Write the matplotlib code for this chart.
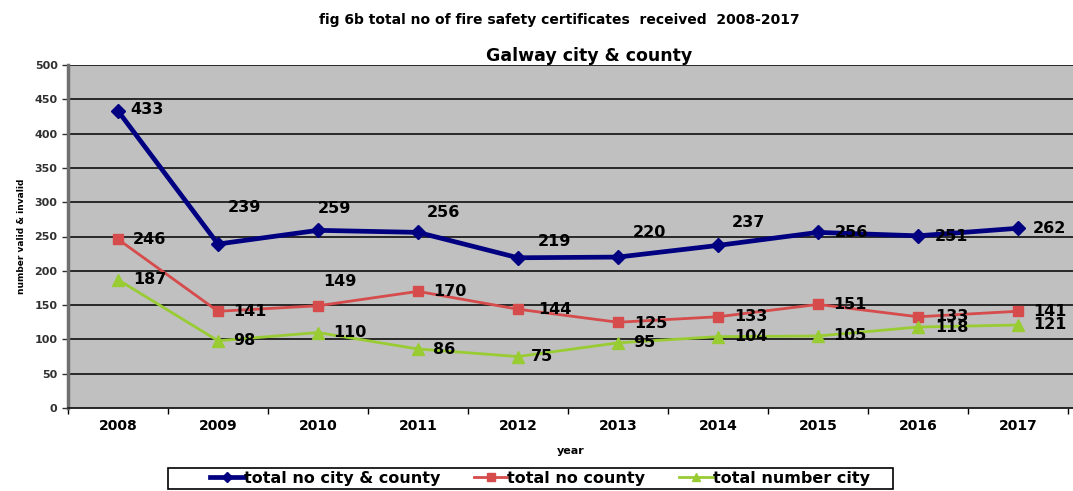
import matplotlib.pyplot as plt
from matplotlib.patches import Rectangle
import numpy as np

plt.rcParams['font.family'] = ['DejaVu Sans']

years = ['2008', '2009', '2010', '2011', '2012', '2013', '2014', '2015', '2016', '2017']
total_city_county = [433, 239, 259, 256, 219, 220, 237, 256, 251, 262]
total_county = [246, 141, 149, 170, 144, 125, 133, 151, 133, 141]
total_city = [187, 98, 110, 86, 75, 95, 104, 105, 118, 121]

# label offsets in pixels (dx to left edge, dy up)
off_blue = [(12, 1), (10, 37), (0, 22), (9, 20), (20, 16), (15, 25), (14, 23), (17, 0), (17, -1), (15, 0)]
off_red = [(15, 0), (15, 0), (5, 24), (15, 0), (20, 0), (16, -1), (16, 0), (15, 0), (17, 0), (15, 0)]
off_green = [(15, 0), (15, 0), (15, 0), (15, 0), (13, 0), (15, 0), (16, 0), (15, 0), (17, 0), (15, 0)]

fig = plt.figure(figsize=(10.73, 4.91), dpi=100)
ax = fig.add_axes([68/1073, 1-408/491, (1073-68)/1073, (408-65)/491])
ax.set_facecolor('#C0C0C0')

x = np.arange(len(years))
ax.set_xlim(-0.5, 9.55)
ax.set_ylim(0, 500)
ax.set_yticks(range(0, 501, 50))
ax.yaxis.grid(True, color='#282828', lw=1.4)
ax.set_axisbelow(True)

series = [
    (total_city_county, '#000080', 'D', 3.4, 7, 'total no city & county', off_blue),
    (total_county, '#D64B4B', 's', 2.0, 7, 'total no county', off_red),
    (total_city, '#99CC33', '^', 2.0, 8, 'total number city', off_green),
]
for vals, col, mk, lw, ms, lab, offs in series:
    ax.plot(x, vals, color=col, marker=mk, lw=lw, ms=ms, label=lab, clip_on=False)
    for xi, v, (dx, dy) in zip(x, vals, offs):
        ax.annotate(str(v), (xi, v), xytext=(dx, dy), textcoords='offset pixels',
                    ha='left', va='center', fontsize=11.5, fontweight='bold',
                    annotation_clip=False)

ax.set_xticks(x)
ax.set_xticklabels(years, fontsize=10, fontweight='bold')
ax.set_xticks(np.arange(-0.5, 10, 1), minor=True)
ax.tick_params(axis='x', which='major', length=0, pad=8)
ax.tick_params(axis='x', which='minor', length=4, width=1, direction='out')
ax.tick_params(axis='y', labelsize=8, length=4, width=1, colors='#303030')
for t in ax.get_yticklabels():
    t.set_fontweight('bold')

for s in ['top', 'right']:
    ax.spines[s].set_visible(False)
ax.spines['left'].set_color('#707070')
ax.spines['left'].set_linewidth(2.5)
ax.spines['bottom'].set_color('#282828')
ax.spines['bottom'].set_linewidth(1.4)

ax.set_ylabel('number valid & invalid', fontsize=6.5, fontweight='bold', labelpad=6)
ax.set_xlabel('year', fontsize=8, fontweight='bold', labelpad=9)

fig.text(559/1073, 1-20/491, 'fig 6b total no of fire safety certificates  received  2008-2017',
         ha='center', va='center', fontsize=10, fontweight='bold')
fig.text(589/1073, 1-56/491, 'Galway city & county',
         ha='center', va='center', fontsize=12.5, fontweight='bold')

leg = fig.legend(loc='center', bbox_to_anchor=(540/1073, 1-478/491), ncol=3,
                 frameon=False, prop={'weight': 'bold', 'size': 11.5},
                 handlelength=2.1, handletextpad=0.0, columnspacing=2.1,
                 markerscale=0.8)
fig.patches.append(Rectangle((168/1073, 1-489/491), (893-168)/1073, 21/491,
                             transform=fig.transFigure, fill=False,
                             edgecolor='black', lw=1.2))

fig.savefig('out.png', dpi=100)
